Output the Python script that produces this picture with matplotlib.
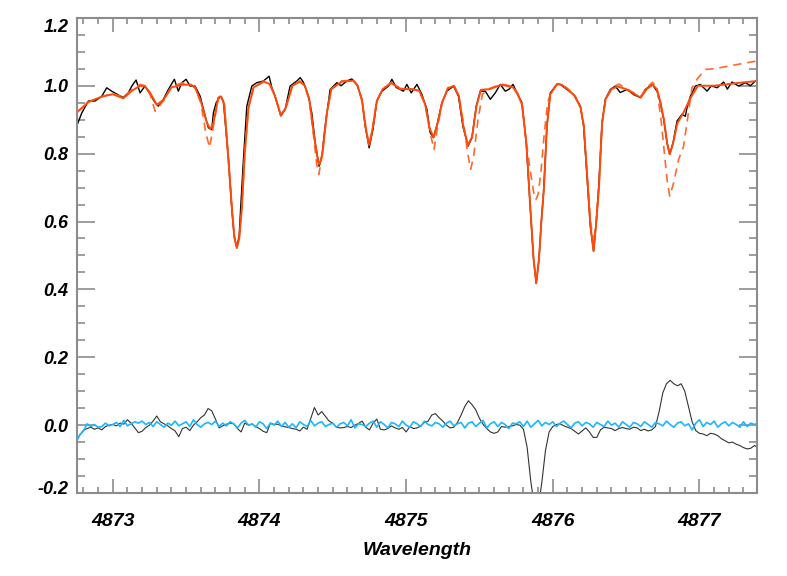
import numpy as np
import matplotlib
matplotlib.use('Agg')
import matplotlib.pyplot as plt
import matplotlib.transforms as mtransforms
from matplotlib.ticker import MultipleLocator

# observed spectrum (wavelength, normalised flux)
obs_wl = [4872.754, 4872.789, 4872.834, 4872.879, 4872.925, 4872.959, 4872.993, 4873.029, 4873.072, 4873.106,
          4873.130, 4873.159, 4873.186, 4873.220, 4873.254, 4873.289, 4873.311, 4873.345, 4873.379, 4873.420,
          4873.447, 4873.471, 4873.500, 4873.527, 4873.561, 4873.596, 4873.630, 4873.652, 4873.675, 4873.686,
          4873.705, 4873.732, 4873.754, 4873.789, 4873.812, 4873.827, 4873.846, 4873.862, 4873.872, 4873.891,
          4873.914, 4873.948, 4873.982, 4874.027, 4874.066, 4874.085, 4874.107, 4874.146, 4874.175, 4874.209,
          4874.255, 4874.278, 4874.300, 4874.334, 4874.357, 4874.380, 4874.407, 4874.426, 4874.448, 4874.482,
          4874.528, 4874.557, 4874.596, 4874.630, 4874.664, 4874.699, 4874.721, 4874.748, 4874.774, 4874.801,
          4874.835, 4874.880, 4874.903, 4874.932, 4874.982, 4875.005, 4875.035, 4875.074, 4875.108, 4875.142,
          4875.164, 4875.187, 4875.214, 4875.244, 4875.278, 4875.323, 4875.357, 4875.387, 4875.422, 4875.449,
          4875.478, 4875.506, 4875.540, 4875.574, 4875.608, 4875.642, 4875.676, 4875.703, 4875.729, 4875.756,
          4875.790, 4875.819, 4875.847, 4875.869, 4875.887, 4875.906, 4875.922, 4875.937, 4875.960, 4875.983,
          4876.029, 4876.051, 4876.097, 4876.142, 4876.188, 4876.210, 4876.233, 4876.256, 4876.278, 4876.297,
          4876.312, 4876.336, 4876.358, 4876.392, 4876.426, 4876.460, 4876.506, 4876.551, 4876.597, 4876.631,
          4876.677, 4876.711, 4876.733, 4876.756, 4876.779, 4876.797, 4876.820, 4876.847, 4876.881, 4876.904,
          4876.915, 4876.938, 4876.972, 4877.006, 4877.052, 4877.081, 4877.120, 4877.165, 4877.190, 4877.222,
          4877.267, 4877.313, 4877.347, 4877.381]
obs_flux = [0.881, 0.920, 0.955, 0.955, 0.969, 0.994, 0.984, 0.975, 0.965, 0.979,
            0.999, 1.017, 0.979, 0.999, 0.975, 0.950, 0.940, 0.960, 0.989, 1.019,
            0.984, 1.009, 1.019, 0.999, 0.999, 0.969, 0.911, 0.876, 0.871, 0.920,
            0.950, 0.969, 0.955, 0.783, 0.636, 0.560, 0.523, 0.560, 0.640, 0.783,
            0.940, 0.999, 1.009, 1.014, 1.028, 0.994, 0.969, 0.911, 0.930, 0.999,
            1.014, 1.024, 1.010, 0.969, 0.920, 0.832, 0.763, 0.793, 0.881, 0.989,
            1.009, 1.000, 1.014, 1.020, 1.004, 0.960, 0.881, 0.817, 0.871, 0.955,
            0.984, 0.999, 1.019, 0.995, 0.984, 1.004, 0.979, 1.004, 0.974, 0.930,
            0.862, 0.847, 0.891, 0.950, 0.984, 0.999, 0.969, 0.881, 0.822, 0.847,
            0.940, 0.984, 0.984, 0.960, 0.979, 1.004, 0.984, 0.990, 1.004, 0.979,
            0.950, 0.832, 0.636, 0.489, 0.418, 0.489, 0.600, 0.685, 0.881, 0.979,
            1.004, 1.004, 0.989, 0.974, 0.940, 0.881, 0.734, 0.587, 0.513, 0.600,
            0.695, 0.891, 0.960, 0.989, 0.999, 0.980, 0.989, 0.974, 0.965, 0.989,
            1.004, 0.984, 0.950, 0.901, 0.832, 0.798, 0.832, 0.896, 0.916, 0.910,
            0.935, 0.969, 0.999, 1.004, 0.984, 1.000, 0.994, 1.011, 0.990, 1.011,
            0.999, 1.009, 1.000, 1.014]

# fitted model (solid)
fit_wl = [4872.754, 4872.834, 4872.925, 4873.000, 4873.072, 4873.130, 4873.186, 4873.220, 4873.254, 4873.300,
          4873.345, 4873.400, 4873.470, 4873.527, 4873.561, 4873.600, 4873.640, 4873.665, 4873.686, 4873.720,
          4873.740, 4873.760, 4873.789, 4873.812, 4873.830, 4873.846, 4873.862, 4873.880, 4873.900, 4873.925,
          4873.960, 4874.030, 4874.070, 4874.107, 4874.146, 4874.180, 4874.225, 4874.275, 4874.310, 4874.340,
          4874.370, 4874.400, 4874.410, 4874.430, 4874.460, 4874.490, 4874.560, 4874.640, 4874.670, 4874.700,
          4874.725, 4874.748, 4874.770, 4874.800, 4874.840, 4874.900, 4874.960, 4875.040, 4875.090, 4875.130,
          4875.160, 4875.187, 4875.215, 4875.245, 4875.285, 4875.325, 4875.360, 4875.390, 4875.422, 4875.450,
          4875.480, 4875.510, 4875.570, 4875.650, 4875.730, 4875.760, 4875.790, 4875.820, 4875.847, 4875.869,
          4875.887, 4875.906, 4875.922, 4875.940, 4875.960, 4875.983, 4876.030, 4876.060, 4876.100, 4876.150,
          4876.190, 4876.212, 4876.235, 4876.256, 4876.278, 4876.297, 4876.315, 4876.336, 4876.360, 4876.400,
          4876.440, 4876.500, 4876.560, 4876.600, 4876.640, 4876.680, 4876.710, 4876.735, 4876.760, 4876.780,
          4876.797, 4876.820, 4876.850, 4876.890, 4876.940, 4876.990, 4877.100, 4877.200, 4877.300, 4877.394]
fit_flux = [0.921, 0.952, 0.968, 0.975, 0.963, 0.985, 1.000, 0.998, 0.980, 0.944,
            0.958, 0.995, 1.003, 1.003, 0.995, 0.955, 0.893, 0.872, 0.890, 0.965,
            0.968, 0.945, 0.780, 0.640, 0.550, 0.522, 0.550, 0.640, 0.800, 0.935,
            0.995, 1.012, 1.005, 0.968, 0.913, 0.935, 1.000, 1.012, 1.000, 0.960,
            0.860, 0.775, 0.768, 0.800, 0.920, 0.990, 1.012, 1.015, 1.000, 0.955,
            0.875, 0.825, 0.870, 0.955, 0.990, 1.008, 0.990, 0.990, 0.985, 0.945,
            0.875, 0.848, 0.890, 0.950, 0.992, 1.000, 0.970, 0.880, 0.825, 0.850,
            0.940, 0.988, 0.990, 1.003, 0.995, 0.975, 0.945, 0.830, 0.640, 0.490,
            0.418, 0.490, 0.600, 0.700, 0.880, 0.975, 1.005, 1.003, 0.990, 0.970,
            0.935, 0.880, 0.730, 0.590, 0.513, 0.600, 0.700, 0.890, 0.960, 0.990,
            0.998, 0.990, 0.975, 0.965, 0.990, 1.003, 0.990, 0.950, 0.895, 0.830,
            0.798, 0.830, 0.890, 0.920, 0.965, 1.000, 1.000, 1.005, 1.010, 1.014]

# second model (dashed)
alt_wl = [4872.754, 4872.834, 4872.925, 4873.000, 4873.072, 4873.130, 4873.186, 4873.220, 4873.254, 4873.289,
          4873.345, 4873.400, 4873.470, 4873.527, 4873.561, 4873.600, 4873.635, 4873.660, 4873.686, 4873.720,
          4873.740, 4873.760, 4873.789, 4873.812, 4873.830, 4873.846, 4873.862, 4873.880, 4873.900, 4873.925,
          4873.960, 4874.030, 4874.070, 4874.107, 4874.146, 4874.180, 4874.225, 4874.275, 4874.310, 4874.340,
          4874.370, 4874.390, 4874.405, 4874.425, 4874.460, 4874.490, 4874.560, 4874.640, 4874.670, 4874.700,
          4874.725, 4874.748, 4874.770, 4874.800, 4874.840, 4874.900, 4874.960, 4875.040, 4875.090, 4875.130,
          4875.165, 4875.190, 4875.215, 4875.245, 4875.285, 4875.325, 4875.360, 4875.395, 4875.420, 4875.440,
          4875.460, 4875.490, 4875.520, 4875.570, 4875.650, 4875.730, 4875.760, 4875.790, 4875.820, 4875.850,
          4875.870, 4875.885, 4875.900, 4875.920, 4875.940, 4875.965, 4875.990, 4876.030, 4876.060, 4876.100,
          4876.150, 4876.190, 4876.212, 4876.235, 4876.256, 4876.278, 4876.297, 4876.315, 4876.336, 4876.360,
          4876.400, 4876.450, 4876.500, 4876.560, 4876.600, 4876.640, 4876.680, 4876.710, 4876.740, 4876.779,
          4876.797, 4876.824, 4876.858, 4876.892, 4876.915, 4876.949, 4876.983, 4877.040, 4877.100, 4877.200,
          4877.300, 4877.394]
alt_flux = [0.921, 0.952, 0.968, 0.977, 0.966, 0.988, 1.004, 1.000, 0.975, 0.925,
            0.955, 0.998, 1.008, 1.006, 0.995, 0.950, 0.860, 0.818, 0.880, 0.965,
            0.968, 0.945, 0.780, 0.640, 0.550, 0.525, 0.550, 0.640, 0.800, 0.935,
            0.995, 1.014, 1.006, 0.968, 0.913, 0.937, 1.004, 1.014, 1.000, 0.955,
            0.850, 0.770, 0.739, 0.790, 0.920, 0.990, 1.014, 1.017, 1.000, 0.955,
            0.875, 0.825, 0.870, 0.955, 0.990, 1.010, 0.992, 0.990, 0.985, 0.945,
            0.860, 0.812, 0.880, 0.950, 0.994, 1.002, 0.968, 0.880, 0.800, 0.754,
            0.790, 0.900, 0.975, 0.992, 1.005, 0.998, 0.978, 0.948, 0.830, 0.740,
            0.685, 0.665, 0.680, 0.750, 0.850, 0.950, 0.985, 1.006, 1.004, 0.992,
            0.972, 0.935, 0.880, 0.740, 0.605, 0.535, 0.610, 0.710, 0.890, 0.962,
            0.992, 1.005, 0.992, 0.977, 0.968, 0.995, 1.010, 0.995, 0.891, 0.724,
            0.675, 0.714, 0.783, 0.822, 0.891, 0.994, 1.019, 1.048, 1.050, 1.058,
            1.066, 1.073]

# residuals on a 0.025 A grid starting at 4872.750
res_wl = np.linspace(4872.75, 4877.40, 187)
res_alt = [-0.048, -0.030, -0.015, -0.010, -0.006, -0.012, -0.008, -0.014, -0.004, 0.000,
           0.002, -0.002, 0.006, 0.003, 0.016, 0.006, -0.008, -0.022, -0.018, -0.007,
           0.000, 0.012, 0.027, 0.010, 0.004, -0.002, -0.010, -0.017, -0.034, -0.010,
           -0.006, -0.016, 0.000, 0.010, 0.022, 0.030, 0.049, 0.042, 0.018, -0.008,
           -0.002, 0.003, 0.006, 0.004, -0.010, -0.020, 0.006, 0.000, 0.003, -0.004,
           -0.010, -0.018, -0.022, 0.006, 0.002, 0.003, -0.002, -0.005, -0.007, -0.010,
           -0.012, -0.017, -0.006, -0.012, 0.020, 0.052, 0.030, 0.040, 0.026, 0.012,
           0.006, -0.006, -0.008, -0.007, -0.004, -0.007, 0.000, 0.005, 0.012, -0.006,
           -0.014, 0.006, 0.018, -0.012, -0.014, -0.010, -0.002, -0.008, -0.012, -0.007,
           -0.020, -0.004, -0.010, -0.008, -0.002, 0.008, 0.012, 0.030, 0.034, 0.022,
           0.012, 0.000, -0.008, -0.006, 0.008, 0.030, 0.055, 0.072, 0.060, 0.045,
           0.020, 0.002, -0.010, -0.020, -0.024, -0.020, -0.004, -0.006, -0.004, -0.002,
           0.002, 0.000, -0.012, -0.065, -0.165, -0.240, -0.245, -0.170, -0.075, -0.020,
           -0.004, 0.002, 0.004, -0.002, -0.006, -0.010, -0.018, -0.026, -0.017, -0.008,
           -0.020, -0.036, -0.036, -0.014, -0.006, -0.008, -0.010, -0.016, -0.010, -0.007,
           -0.010, -0.012, -0.006, -0.008, -0.016, -0.012, -0.017, -0.014, -0.004, 0.040,
           0.095, 0.122, 0.132, 0.122, 0.116, 0.122, 0.100, 0.055, 0.010, -0.016,
           -0.024, -0.026, -0.031, -0.024, -0.026, -0.031, -0.040, -0.046, -0.052, -0.050,
           -0.056, -0.060, -0.066, -0.070, -0.068, -0.060, -0.066]
res_fit = [-0.050, -0.028, -0.018, 0.004, -0.004, 0.002, -0.006, -0.004, 0.006, -0.002,
           0.002, 0.008, -0.004, 0.014, -0.002, 0.004, 0.010, 0.006, 0.012, 0.002,
           0.008, -0.004, 0.010, 0.002, -0.006, 0.006, 0.000, 0.012, -0.002, 0.004,
           0.010, -0.004, 0.016, 0.002, -0.006, 0.004, 0.008, 0.002, 0.012, -0.004,
           0.006, -0.002, 0.010, 0.004, -0.008, 0.006, 0.014, 0.000, 0.004, -0.006,
           0.010, 0.004, -0.010, 0.006, 0.000, 0.012, -0.004, 0.008, -0.006, 0.004,
           -0.008, 0.010, 0.002, -0.004, 0.014, -0.002, 0.006, 0.010, -0.004, 0.002,
           0.006, -0.006, 0.004, 0.008, -0.002, 0.016, -0.008, 0.004, 0.002, -0.004,
           0.006, 0.012, -0.006, 0.010, 0.002, -0.008, 0.008, 0.004, -0.004, 0.012,
           0.000, -0.006, 0.010, 0.004, -0.004, 0.012, 0.002, -0.002, 0.008, 0.004,
           -0.006, 0.006, 0.012, -0.002, 0.004, 0.008, -0.008, 0.006, 0.010, -0.004,
           0.006, 0.014, -0.008, 0.004, 0.010, -0.004, 0.008, 0.002, -0.010, 0.006,
           0.004, 0.010, -0.004, 0.012, -0.006, 0.004, 0.014, -0.002, 0.008, 0.002,
           0.010, -0.004, 0.006, 0.012, 0.002, -0.008, 0.006, 0.010, -0.002, 0.008,
           0.004, -0.006, 0.008, 0.002, -0.004, 0.012, 0.000, 0.006, -0.006, 0.010,
           0.002, -0.006, 0.008, 0.004, -0.004, 0.010, 0.002, -0.006, 0.008, 0.004,
           -0.002, 0.012, 0.002, -0.006, 0.006, 0.010, -0.002, 0.004, -0.014, 0.006,
           0.016, -0.004, 0.008, 0.002, 0.012, -0.006, 0.004, 0.010, -0.002, 0.008,
           0.002, -0.006, 0.010, -0.004, 0.006, 0.002, 0.006]

x_range = (4872.756, 4877.394)
y_range = (-0.2, 1.2)
x_ticks = [4873, 4874, 4875, 4876, 4877]
y_ticks = [-0.2, 0.0, 0.2, 0.4, 0.6, 0.8, 1.0, 1.2]

plt.rcParams['font.family'] = ['Liberation Sans', 'DejaVu Sans']
fig = plt.figure(figsize=(7.87, 5.76), dpi=100)
ax = fig.add_axes([0.0978, 0.144, 0.8644, 0.825])

ax.plot(obs_wl, obs_flux, color='black', lw=1.0)
ax.plot(alt_wl, alt_flux, color='#ff6a2a', lw=1.2, linestyle=(0, (5, 3.5)))
ax.plot(fit_wl, fit_flux, color='#ff4a0a', lw=1.4)
ax.plot(res_wl, res_alt, color='#333333', lw=0.8)
ax.plot(res_wl, res_fit, color='#1cb6ff', lw=1.2)

ax.set_xlim(*x_range)
ax.set_ylim(*y_range)
ax.set_xticks(x_ticks)
ax.set_yticks(y_ticks)
ax.set_xticklabels(['%d' % t for t in x_ticks])
ax.set_yticklabels(['%.1f' % t for t in y_ticks])
ax.xaxis.set_minor_locator(MultipleLocator(0.1))
ax.yaxis.set_minor_locator(MultipleLocator(0.05))

for s in ax.spines.values():
    s.set_color('#8c8c8c')
    s.set_linewidth(1.5)
ax.tick_params(which='both', direction='in', top=True, right=True, color='#8c8c8c', width=1.2)
ax.tick_params(axis='y', which='major', length=13)
ax.tick_params(axis='y', which='minor', length=6)
ax.tick_params(axis='x', which='major', length=10)
ax.tick_params(axis='x', which='minor', length=4)
ax.tick_params(axis='x', labelsize=14, pad=14)
ax.tick_params(axis='y', labelsize=13, pad=6)
for lab in ax.get_xticklabels() + ax.get_yticklabels():
    lab.set_fontweight('bold')
    lab.set_fontstyle('italic')

# end labels on the y axis sit a little inside the frame
ylabs = ax.get_yticklabels()
ylabs[0].set_transform(ylabs[0].get_transform() + mtransforms.ScaledTranslation(0, 0.06, fig.dpi_scale_trans))
ylabs[-1].set_transform(ylabs[-1].get_transform() + mtransforms.ScaledTranslation(0, -0.08, fig.dpi_scale_trans))

ax.set_xlabel('Wavelength', fontsize=14, fontweight='bold', fontstyle='italic', labelpad=9)

fig.savefig('out.png', dpi=100)
